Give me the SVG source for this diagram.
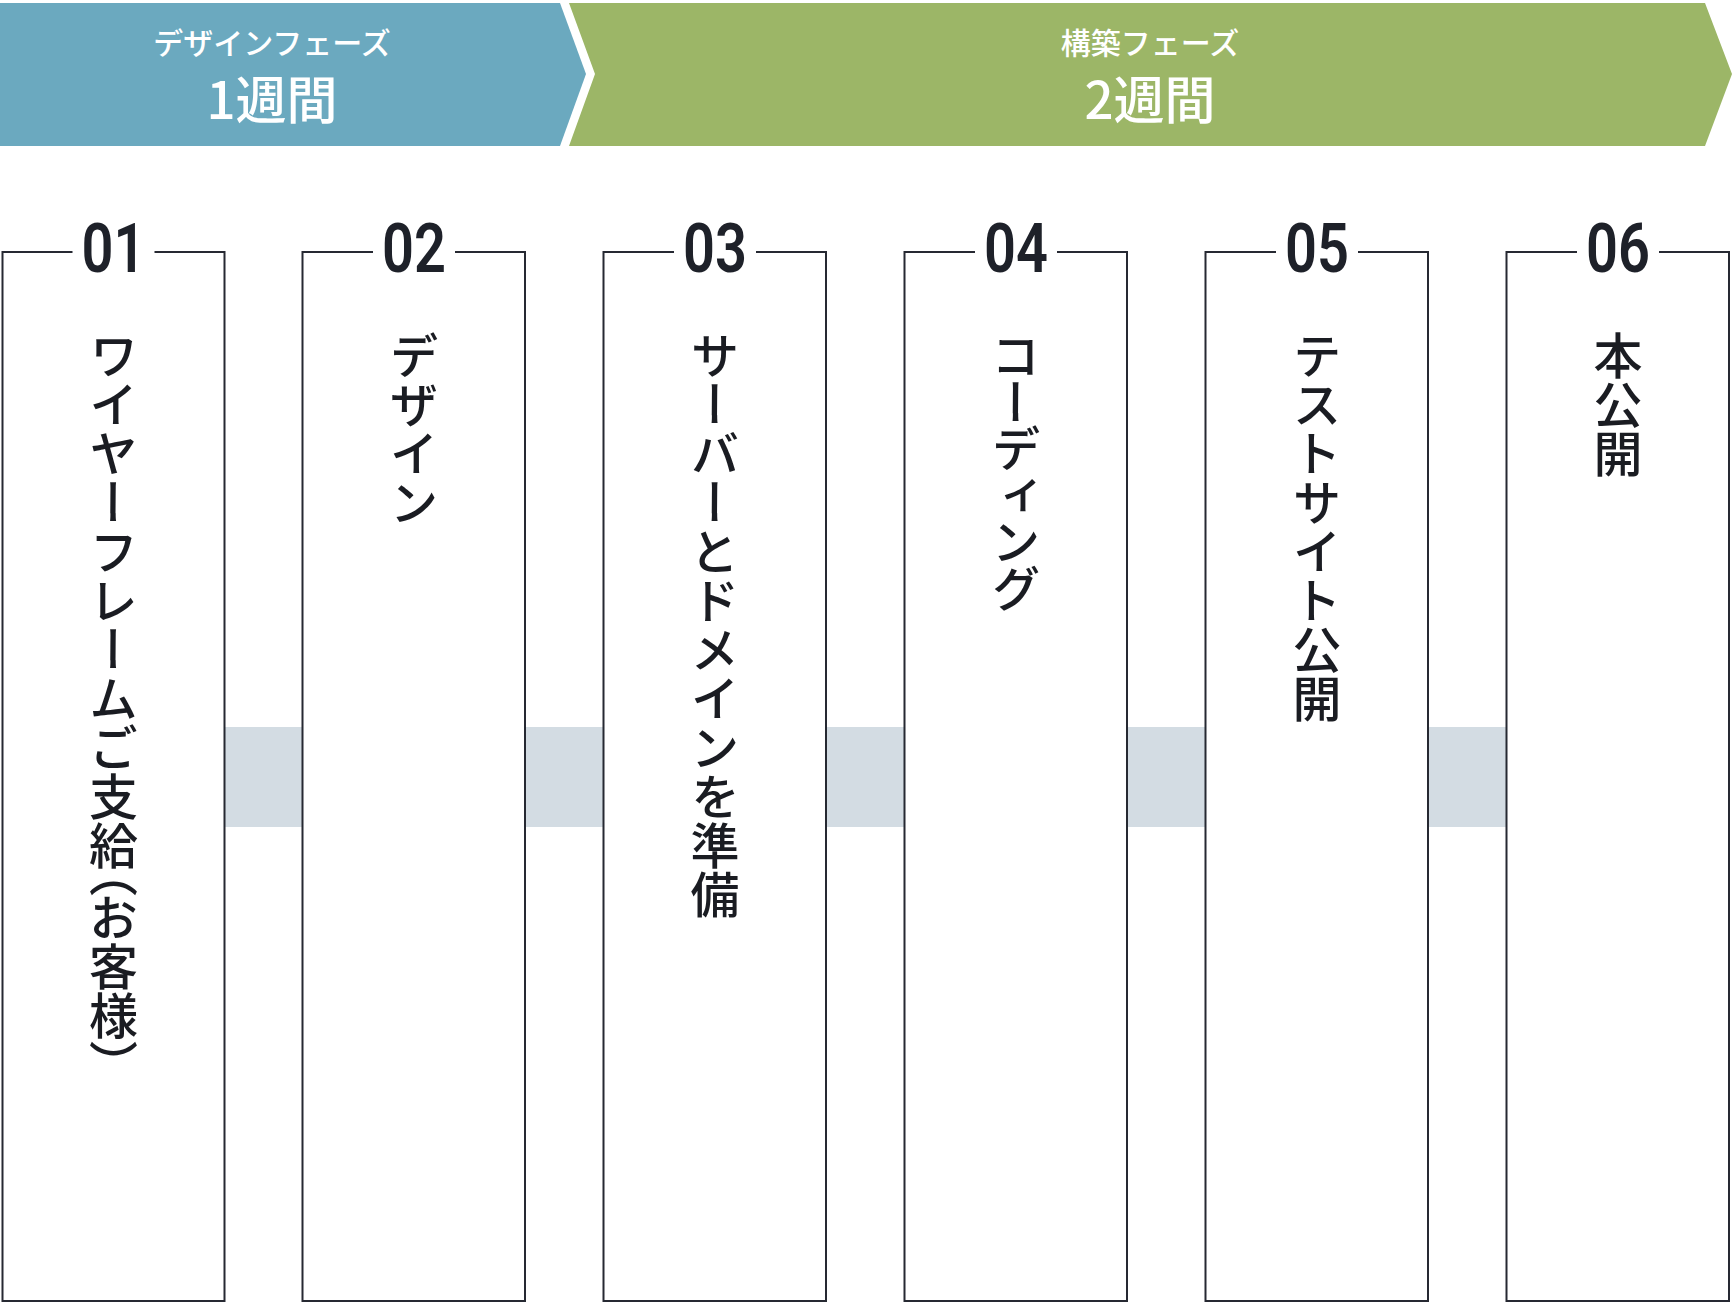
<svg xmlns="http://www.w3.org/2000/svg" width="1732" height="1303" viewBox="0 0 1732 1303">
  <style>
    .phase-t { font-family: "Noto Sans CJK JP", "Noto Sans", sans-serif; font-weight: 500; fill: #ffffff; text-anchor: middle; dominant-baseline: central; }
    .phase-s { font-size: 30px; }
    .phase-l { font-size: 51px; }
    .box { fill: #ffffff; stroke: #262932; stroke-width: 2; }
    .num { font-family: Roboto, "Liberation Sans", sans-serif; font-weight: 600; font-size: 68px; fill: #1e2129; text-anchor: middle; }
    .vt { font-family: "Noto Sans CJK JP", sans-serif; font-weight: 500; font-size: 49px; fill: #1a1c22; writing-mode: vertical-rl; text-anchor: start; }
    .bar { fill: #d3dce3; }
  </style>
  <rect x="0" y="0" width="1732" height="1303" fill="#ffffff"/>

  <g id="phase-design">
    <polygon points="0,3 560,3 586,74 560,146 0,146" fill="#6ba9bf"/>
    <text class="phase-t phase-s" x="272" y="41">デザインフェーズ</text>
    <text class="phase-t phase-l" x="272" y="97">1週間</text>
  </g>
  <g id="phase-build">
    <polygon points="569,3 1705,3 1732,74 1705,146 569,146 595,74" fill="#9cb667"/>
    <text class="phase-t phase-s" x="1150" y="41">構築フェーズ</text>
    <text class="phase-t phase-l" x="1150" y="97">2週間</text>
  </g>

  <g id="connectors">
    <rect class="bar" x="225" y="727" width="77" height="100"/>
    <rect class="bar" x="525" y="727" width="78" height="100"/>
    <rect class="bar" x="826" y="727" width="78" height="100"/>
    <rect class="bar" x="1127" y="727" width="78" height="100"/>
    <rect class="bar" x="1428" y="727" width="78" height="100"/>
  </g>

  <g id="step-01">
    <path class="box" d="M72.5,252 H2.5 V1301 H224.5 V252 H154.5"/>
    <text class="num" x="113.5" y="272" textLength="64" lengthAdjust="spacingAndGlyphs">01</text>
    <text class="vt" x="113.5" y="331">ワイヤーフレームご支<tspan style="letter-spacing:-22px">給</tspan><tspan style="letter-spacing:-4px">（</tspan>お客様）</text>
  </g>
  <g id="step-02">
    <path class="box" d="M373,252 H302.5 V1301 H525 V252 H455"/>
    <text class="num" x="414" y="272" textLength="64" lengthAdjust="spacingAndGlyphs">02</text>
    <text class="vt" x="414" y="331">デザイン</text>
  </g>
  <g id="step-03">
    <path class="box" d="M674,252 H603.5 V1301 H826 V252 H756"/>
    <text class="num" x="715" y="272" textLength="64" lengthAdjust="spacingAndGlyphs">03</text>
    <text class="vt" x="715" y="331">サーバーとドメインを準備</text>
  </g>
  <g id="step-04">
    <path class="box" d="M975,252 H904.5 V1301 H1127 V252 H1057"/>
    <text class="num" x="1016" y="272" textLength="64" lengthAdjust="spacingAndGlyphs">04</text>
    <text class="vt" x="1016" y="331" style="letter-spacing:-2.5px">コーディング</text>
  </g>
  <g id="step-05">
    <path class="box" d="M1276,252 H1205.5 V1301 H1428 V252 H1358"/>
    <text class="num" x="1317" y="272" textLength="64" lengthAdjust="spacingAndGlyphs">05</text>
    <text class="vt" x="1317" y="331">テストサイト公開</text>
  </g>
  <g id="step-06">
    <path class="box" d="M1577,252 H1506.5 V1301 H1729 V252 H1659"/>
    <text class="num" x="1618" y="272" textLength="64" lengthAdjust="spacingAndGlyphs">06</text>
    <text class="vt" x="1618" y="331">本公開</text>
  </g>
</svg>
